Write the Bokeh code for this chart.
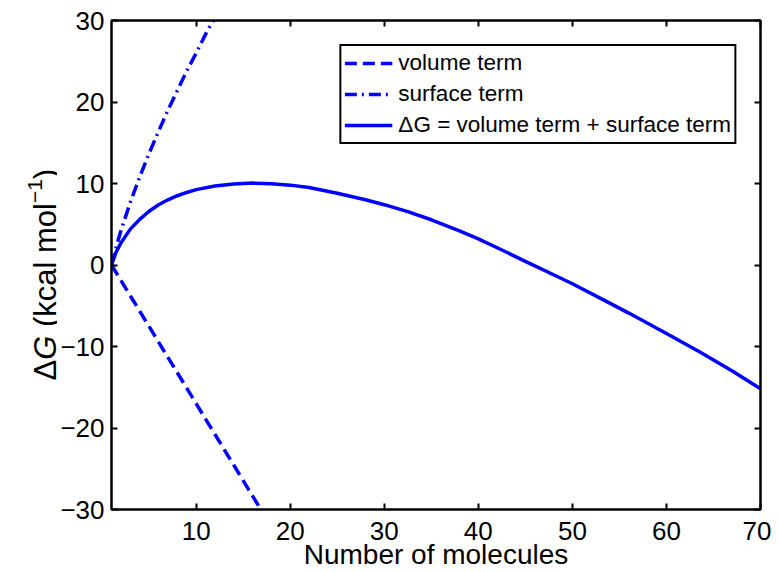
from bokeh.plotting import figure
from bokeh.models import Range1d, LinearAxis, FixedTicker, Legend, LegendItem
from bokeh.layouts import row
from bokeh.core.properties import value
from bokeh.embed import file_html
from bokeh.resources import INLINE

# ---- data ----
n_volume = [1, 10, 20]
volume_term = [0.0, -17.0, -35.9]

n_surface = [1, 1.5, 2, 3, 4, 5, 6, 7, 8, 9, 10, 11, 12]
surface_term = [0.0, 2.2, 4.2, 7.7, 10.8, 13.7, 16.4, 19.0, 21.4, 23.8, 26.0, 28.3, 30.4]

n_total = [1, 1.5, 2, 3, 4, 5, 6, 7, 8, 9, 10, 12, 14, 16, 18, 20, 22, 25, 28, 30,
           32.5, 35, 38, 40, 42.4, 45, 48, 50, 53, 56, 60, 63.6, 67, 70]
delta_g = [0.0, 1.6, 2.7, 4.4, 5.6, 6.6, 7.4, 8.0, 8.5, 8.9, 9.25, 9.7, 9.95, 10.05, 9.97,
           9.8, 9.5, 8.8, 8.0, 7.4, 6.55, 5.55, 4.2, 3.2, 1.9, 0.45, -1.2, -2.3, -4.1,
           -5.9, -8.4, -10.7, -13.0, -15.2]

x_ticks = [10, 20, 30, 40, 50, 60, 70]
y_ticks = [-30, -20, -10, 0, 10, 20, 30]

legend_labels = ["volume term", "surface term", "\u0394G = volume term + surface term"]
x_label = "Number of molecules"
# y-axis label pieces: Delta, italic G, unit, superscript, closing paren
ylab_plain = ["\u0394", "(kcal mol", ")"]
ylab_italic = ["G"]
ylab_sup = ["\u22121"]

FONT = "Liberation Sans"
BLUE = "#0000FF"
H = 572
LW = 57  # width of the strip that holds the rotated y label
TOP, BOTTOM = 20, 63  # borders of the plot frame (shared by the strip in the row)

# ---------- main plot ----------
p = figure(width=771 - LW, height=H, x_range=Range1d(1, 70), y_range=Range1d(-30, 30),
           output_backend="svg", toolbar_location=None,
           min_border_left=110 - LW, min_border_right=11, min_border_top=TOP,
           min_border_bottom=BOTTOM)
p.grid.visible = False
p.outline_line_color = "black"
p.outline_line_width = 2
p.outline_line_alpha = 1.0
p.background_fill_color = "white"
p.border_fill_color = "white"

r_vol = p.line(n_volume, volume_term, line_color=BLUE, line_width=3.5, line_dash="12 6")
r_surf = p.line(n_surface, surface_term, line_color=BLUE, line_width=3.5, line_dash="12 5 2 5")
r_tot = p.line(n_total, delta_g, line_color=BLUE, line_width=3.5)


def style_axis(ax, ticks, show_labels=True):
    ax.ticker = FixedTicker(ticks=ticks)
    ax.axis_line_color = "black"
    ax.axis_line_width = 2
    ax.major_tick_in = 6
    ax.major_tick_out = 0
    ax.major_tick_line_width = 2
    ax.major_tick_line_color = "black"
    ax.minor_tick_line_color = None
    if show_labels:
        ax.major_label_text_font = FONT
        ax.major_label_text_font_size = "26px"
        ax.major_label_text_color = "black"
    else:
        ax.major_label_text_font_size = "1px"
        ax.major_label_text_color = None
        ax.major_label_standoff = 0


style_axis(p.xaxis[0], x_ticks)
style_axis(p.yaxis[0], y_ticks)
p.xaxis[0].major_label_standoff = 12
p.yaxis[0].major_label_standoff = 7
p.xaxis[0].axis_label = x_label
p.xaxis[0].axis_label_text_font = FONT
p.xaxis[0].axis_label_text_font_size = "28px"
p.xaxis[0].axis_label_text_font_style = "normal"
p.xaxis[0].axis_label_text_color = "black"
p.xaxis[0].axis_label_standoff = -4

top_ax = LinearAxis()
style_axis(top_ax, x_ticks, show_labels=False)
p.add_layout(top_ax, "above")
right_ax = LinearAxis()
style_axis(right_ax, y_ticks, show_labels=False)
p.add_layout(right_ax, "right")

legend = Legend(items=[LegendItem(label=legend_labels[0], renderers=[r_vol]),
                       LegendItem(label=legend_labels[1], renderers=[r_surf]),
                       LegendItem(label=legend_labels[2], renderers=[r_tot])],
                location="top_right")
legend.margin = 24
legend.padding = 3
legend.spacing = 3
legend.glyph_width = 48
legend.glyph_height = 28
legend.label_height = 28
legend.label_standoff = 6
legend.label_text_font = FONT
legend.label_text_font_size = "22.5px"
legend.label_text_color = "black"
legend.border_line_color = "black"
legend.border_line_alpha = 1.0
legend.border_line_width = 2
legend.background_fill_color = "white"
legend.background_fill_alpha = 1.0
p.add_layout(legend)

# ---------- strip with the rotated y-axis label ----------
# its frame is aligned with the plot frame, so its y range is in page pixels
# measured upward from the bottom of the page
lab = figure(width=LW, height=H, x_range=Range1d(0, LW),
             y_range=Range1d(BOTTOM, H - TOP),
             output_backend="svg", toolbar_location=None,
             x_axis_type=None, y_axis_type=None,
             min_border_left=0, min_border_right=0, min_border_top=TOP,
             min_border_bottom=BOTTOM)
lab.grid.visible = False
lab.outline_line_color = None
lab.background_fill_color = "white"
lab.border_fill_color = "white"

ANG = 1.5707963267948966
common = dict(angle=ANG, text_font=value(FONT), text_color="black",
              text_align="left", text_baseline="alphabetic")
lab.text(x=[45, 45], y=[H - 380, H - 326.6], text=ylab_plain[:2], text_font_size="31px", **common)
lab.text(x=[45], y=[H - 178.7], text=ylab_plain[2:], text_font_size="31px", **common)
lab.text(x=[45], y=[H - 359.3], text=ylab_italic, text_font_size="31px",
         text_font_style="italic", **common)
lab.text(x=[34], y=[H - 202.6], text=ylab_sup, text_font_size="21px", **common)

layout = row(lab, p)
open("out.html", "w").write(file_html(layout, INLINE))
